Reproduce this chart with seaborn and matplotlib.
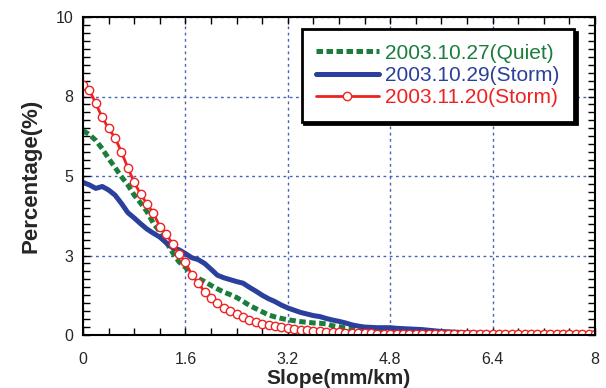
import matplotlib
matplotlib.use("Agg")
import matplotlib.pyplot as plt
from matplotlib.ticker import MultipleLocator, FixedLocator, FixedFormatter
import seaborn as sns
import pandas as pd
import numpy as np

# slope axis (mm/km), 0.1 step
slope = [round(0.1 * i, 1) for i in range(81)]

quiet_1027 = [6.43, 6.30, 6.12, 5.86, 5.55, 5.27, 4.98, 4.72, 4.40, 4.15,
              3.88, 3.51, 3.25, 2.93, 2.59, 2.30, 2.13, 1.90, 1.78, 1.68,
              1.56, 1.45, 1.35, 1.27, 1.18, 1.06, 0.93, 0.83, 0.73, 0.63,
              0.57, 0.52, 0.48, 0.45, 0.42, 0.40, 0.38, 0.37, 0.35, 0.29,
              0.26, 0.22, 0.19, 0.16, 0.14, 0.12, 0.10, 0.09, 0.08, 0.07,
              0.06, 0.05, 0.05, 0.04, 0.04, 0.03, 0.03, 0.03, 0.02, 0.02,
              0.02, 0.02, 0.02, 0.02, 0.02, 0.01, 0.01, 0.01, 0.01, 0.01,
              0.01, 0.01, 0.01, 0.01, 0.01, 0.01, 0.01, 0.01, 0.01, 0.01, 0.01]

storm_1029 = [4.80, 4.72, 4.61, 4.67, 4.56, 4.40, 4.14, 3.85, 3.68, 3.50,
              3.33, 3.20, 3.08, 2.90, 2.74, 2.68, 2.56, 2.43, 2.37, 2.25,
              2.07, 1.88, 1.80, 1.74, 1.68, 1.63, 1.50, 1.38, 1.25, 1.14,
              1.05, 0.94, 0.85, 0.78, 0.71, 0.66, 0.61, 0.58, 0.52, 0.47,
              0.43, 0.38, 0.32, 0.28, 0.25, 0.24, 0.23, 0.23, 0.23, 0.21,
              0.20, 0.19, 0.18, 0.17, 0.15, 0.13, 0.11, 0.10, 0.09, 0.08,
              0.07, 0.06, 0.06, 0.05, 0.05, 0.04, 0.04, 0.04, 0.03, 0.03,
              0.03, 0.03, 0.03, 0.02, 0.02, 0.02, 0.02, 0.02, 0.02, 0.02, 0.02]

storm_1120 = [7.85, 7.70, 7.28, 6.84, 6.50, 6.20, 5.76, 5.26, 4.80, 4.43,
              4.12, 3.83, 3.41, 3.17, 2.86, 2.55, 2.28, 1.89, 1.63, 1.36,
              1.17, 1.00, 0.86, 0.75, 0.65, 0.56, 0.48, 0.42, 0.36, 0.31,
              0.28, 0.25, 0.22, 0.19, 0.17, 0.15, 0.13, 0.12, 0.10, 0.09,
              0.08, 0.07, 0.06, 0.06, 0.05, 0.05, 0.04, 0.04, 0.04, 0.03,
              0.03, 0.03, 0.03, 0.03, 0.02, 0.02, 0.02, 0.02, 0.02, 0.02,
              0.02, 0.02, 0.02, 0.02, 0.02, 0.02, 0.02, 0.02, 0.02, 0.02,
              0.02, 0.02, 0.02, 0.02, 0.02, 0.02, 0.02, 0.02, 0.02, 0.02, 0.02]

labels = ["2003.10.27(Quiet)", "2003.10.29(Storm)", "2003.11.20(Storm)"]
x_ticks = [0, 1.6, 3.2, 4.8, 6.4, 8]
x_ticklabels = ["0", "1.6", "3.2", "4.8", "6.4", "8"]
y_ticks = [0, 2.5, 5, 7.5, 10]
y_ticklabels = ["0", "3", "5", "8", "10"]

sns.set_style("ticks")
plt.rcParams["font.family"] = ["Liberation Sans", "DejaVu Sans"]

df = pd.DataFrame({"slope": slope, "q": quiet_1027, "s1": storm_1029, "s2": storm_1120})

fig = plt.figure(figsize=(6.06, 3.88), dpi=100)
ax = fig.add_axes([83 / 606, 53 / 388, 512 / 606, 318 / 388])

green = "#1b7d3b"
blue = "#2b3f9c"
red = "#ee2222"

sns.lineplot(data=df, x="slope", y="q", ax=ax, color=green, lw=3.6,
             label=labels[0])
sns.lineplot(data=df, x="slope", y="s1", ax=ax, color=blue, lw=3.6,
             label=labels[1])
sns.lineplot(data=df, x="slope", y="s2", ax=ax, color=red, lw=2.0,
             marker="o", markersize=6, markerfacecolor="white",
             markeredgecolor=red, markeredgewidth=1.0, label=labels[2])
ax.lines[0].set_dashes([1.3, 0.7])

ax.set_xlim(0, 8)
ax.set_ylim(0, 10)
ax.xaxis.set_major_locator(FixedLocator(x_ticks))
ax.xaxis.set_major_formatter(FixedFormatter(x_ticklabels))
ax.xaxis.set_minor_locator(MultipleLocator(0.4))
ax.yaxis.set_major_locator(FixedLocator(y_ticks))
ax.yaxis.set_major_formatter(FixedFormatter(y_ticklabels))
ax.yaxis.set_minor_locator(MultipleLocator(0.25))
ax.tick_params(which="both", direction="in", top=True, right=True,
               length=5, width=1, color="black", labelsize=11.5)
ax.tick_params(axis="x", pad=12)
ax.tick_params(axis="y", pad=7)

ax.grid(True, which="major", color="#4a62b8", linestyle=(0, (2, 2.5)), linewidth=1.0)
for s in ax.spines.values():
    s.set_color("black")
    s.set_linewidth(1.5)

ax.set_xlabel("Slope(mm/km)", fontsize=15, fontweight="bold", labelpad=2)
ax.set_ylabel("Percentage(%)", fontsize=16, fontweight="bold", labelpad=10)

leg = ax.legend(loc="upper left", bbox_to_anchor=(0.427, 0.962), fontsize=15,
                frameon=True, fancybox=False, shadow={"color": "black", "alpha": 1},
                handlelength=3.0, handletextpad=0.3, labelspacing=0.15,
                borderpad=0.7, borderaxespad=0, labelcolor="linecolor",
                framealpha=1)
leg.get_frame().set_edgecolor("black")
leg.get_frame().set_linewidth(2)

fig.savefig("out.png", dpi=100)
